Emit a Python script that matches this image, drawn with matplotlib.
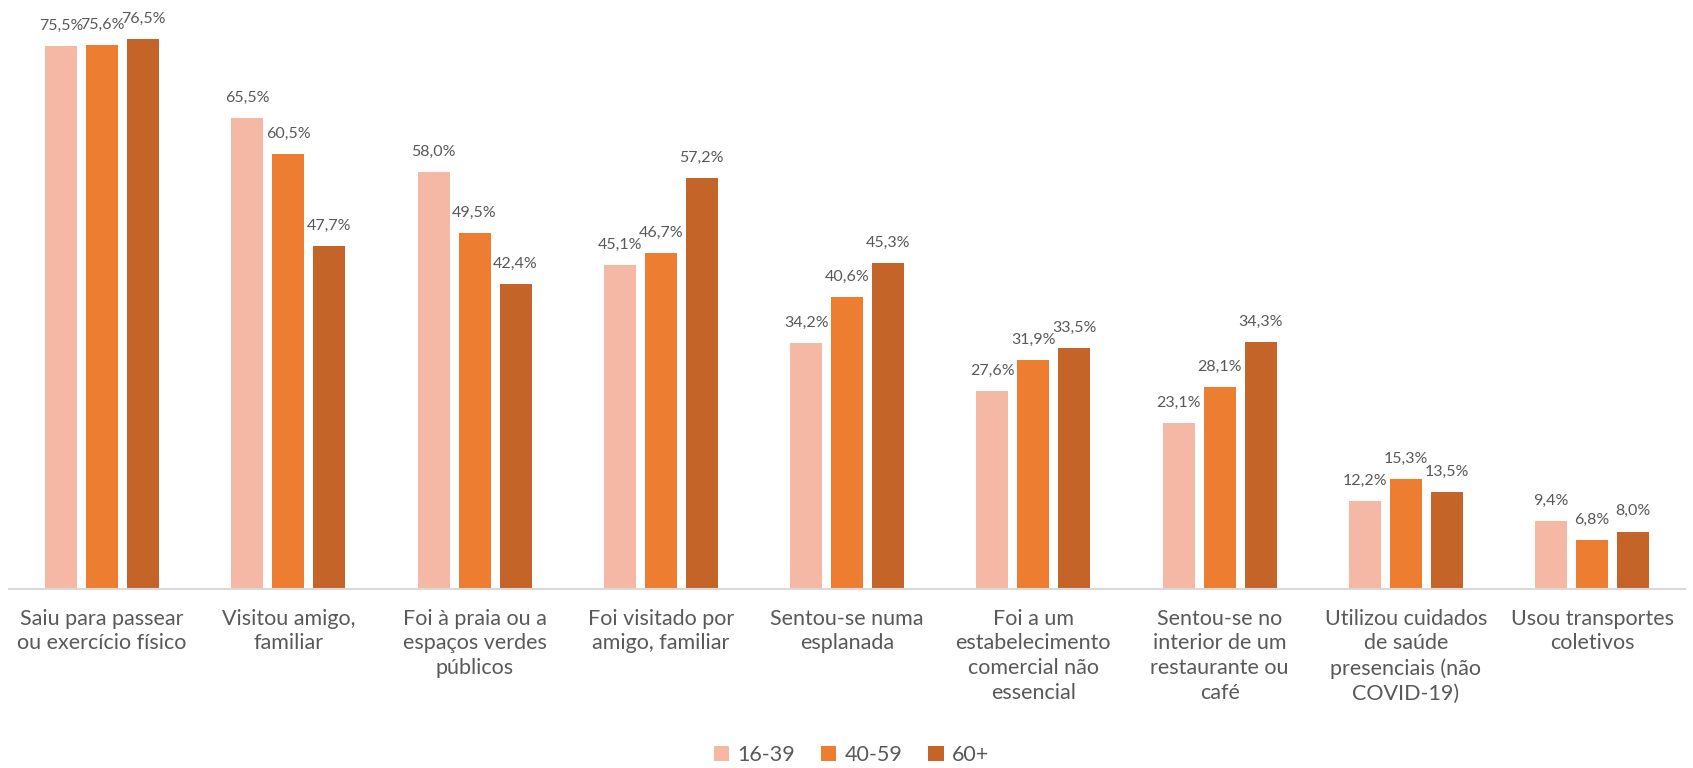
import matplotlib.pyplot as plt
import numpy as np

categories = [
    "Saiu para passear\nou exercício físico",
    "Visitou amigo,\nfamiliar",
    "Foi à praia ou a\nespaços verdes\npúblicos",
    "Foi visitado por\namigo, familiar",
    "Sentou-se numa\nesplanada",
    "Foi a um\nestabelecimento\ncomercial não\nessencial",
    "Sentou-se no\ninterior de um\nrestaurante ou\ncafé",
    "Utilizou cuidados\nde saúde\npresenciais (não\nCOVID-19)",
    "Usou transportes\ncoletivos",
]
groups = ["16-39", "40-59", "60+"]
v_16_39 = [75.5, 65.5, 58.0, 45.1, 34.2, 27.6, 23.1, 12.2, 9.4]
v_40_59 = [75.6, 60.5, 49.5, 46.7, 40.6, 31.9, 28.1, 15.3, 6.8]
v_60 = [76.5, 47.7, 42.4, 57.2, 45.3, 33.5, 34.3, 13.5, 8.0]
colors = ["#F4B8A5", "#ED7D31", "#C56428"]

plt.rcParams['font.family'] = ['Lato', 'DejaVu Sans']
text_color = "#595959"

fig = plt.figure(figsize=(16.93, 7.68), dpi=100)
ax = fig.add_axes([0.0053, 0.233, 0.9901, 0.749])

x = np.arange(len(categories))
width = 0.172
step = 0.22
for i, (vals, name) in enumerate(zip([v_16_39, v_40_59, v_60], groups)):
    pos = x + (i - 1) * step
    bars = ax.bar(pos, vals, width, color=colors[i], label=name)
    for b, v in zip(bars, vals):
        ax.annotate(f"{v:.1f}%".replace(".", ","),
                    (b.get_x() + b.get_width() / 2, v),
                    xytext=(0, 9.5), textcoords="offset points",
                    ha="center", va="bottom", fontsize=11.5, color=text_color)

ax.set_xlim(-0.5, len(categories) - 0.5)
ax.set_ylim(0, 80)
ax.set_yticks([])
ax.set_xticks(x)
ax.set_xticklabels(categories, fontsize=15.5, color=text_color, linespacing=1.3)
ax.tick_params(axis="x", length=0, pad=14)
for s in ["top", "right", "left"]:
    ax.spines[s].set_visible(False)
ax.spines["bottom"].set_color("#D9D9D9")
ax.spines["bottom"].set_linewidth(1.5)

leg = fig.legend(loc="center", bbox_to_anchor=(0.503, 0.017), ncol=3, frameon=False,
                 fontsize=15.5, handlelength=0.7, handleheight=0.7, handletextpad=0.4,
                 columnspacing=1.2)
for t in leg.get_texts():
    t.set_color(text_color)

fig.savefig("out.png", dpi=100)
